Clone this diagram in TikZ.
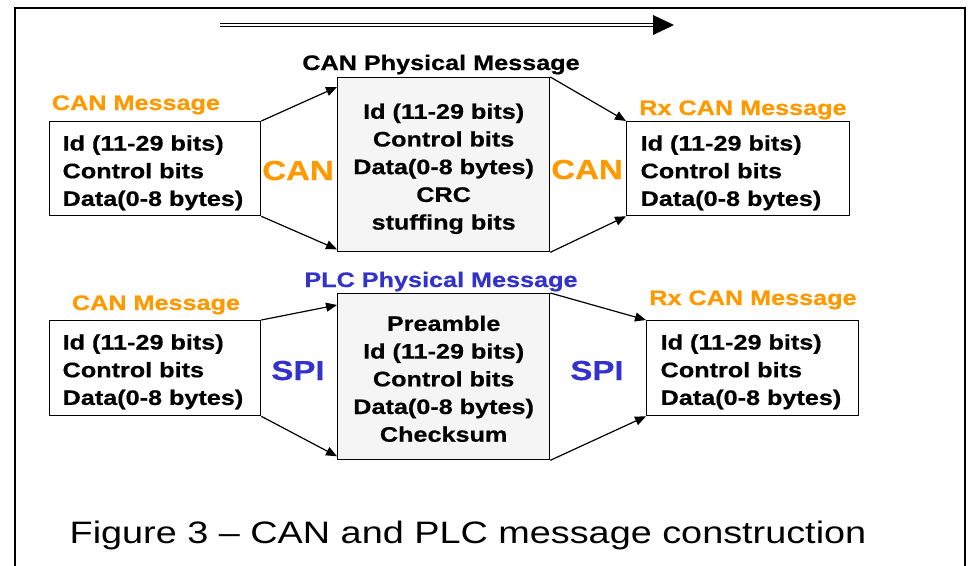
\documentclass[tikz,border=0pt]{standalone}
\usepackage{fontspec}
\setmainfont{Liberation Sans}[FakeStretch=1.2, BoldFeatures={FakeBold=0.6}]
\newfontfamily\capfont{Liberation Sans}[FakeStretch=1.22]
\usetikzlibrary{arrows.meta}
\definecolor{canorange}{RGB}{255,153,0}
\definecolor{plcblue}{RGB}{51,51,204}
\definecolor{physfill}{RGB}{245,245,245}
\newcommand{\topup}[1]{\rule{0pt}{#1}}
\begin{document}
\begin{tikzpicture}[x=1pt,y=-1pt,
  boxtext/.style={font=\bfseries\fontsize{21}{27.7}\selectfont},
  msgbox/.style={boxtext, draw=black, line width=1.3pt, minimum width=211pt, minimum height=94pt,
    anchor=north west, align=left, text width=185pt, inner xsep=13pt, inner ysep=0pt},
  physbox/.style={boxtext, draw=black, fill=physfill, line width=1.3pt, minimum width=212pt,
    anchor=north west, align=center, text width=200pt, inner xsep=6pt, inner ysep=0pt},
  lbl/.style={font=\bfseries\fontsize{21}{24}\selectfont, anchor=base, inner sep=0pt},
  biglbl/.style={font=\bfseries\fontsize{27.5}{30}\selectfont, anchor=base, inner sep=0pt},
  conn/.style={line width=1.2pt, -{Triangle[length=11pt,width=9pt]}}
]
\useasboundingbox (0,0) rectangle (968,565);
% frame
\draw[line width=2pt] (14.5,570) -- (14.5,8) -- (965,8) -- (965,570);
% direction arrow
\coordinate (da) at (220,25);
\coordinate (db) at (655,25);
\draw[double, double distance=2.2pt, line width=1.2pt] (da) -- (db);
\fill (653,15) -- (674,25) -- (653,35) -- cycle;

% upper row
\node[msgbox] (m1) at (49,121) {\topup{23.5pt}Id (11-29 bits)\\Control bits\\Data(0-8 bytes)};
\node[physbox, minimum height=174pt] (p1) at (337,77)
  {\topup{23.5pt}Id (11-29 bits)\\Control bits\\Data(0-8 bytes)\\CRC\\stuffing bits};
\node[msgbox, minimum width=223pt, text width=195pt, inner xsep=14pt] (r1) at (626,121)
  {\topup{23.5pt}Id (11-29 bits)\\Control bits\\Data(0-8 bytes)};
\node[lbl, text=canorange] (t1) at (136,110) {CAN Message};
\node[lbl] (t2) at (441,70) {CAN Physical Message};
\node[lbl, text=canorange] (t3) at (743,115) {Rx CAN Message};
\node[biglbl, text=canorange] (c1) at (298,180) {CAN};
\node[biglbl, text=canorange] (c2) at (587,179) {CAN};
\draw[conn] (m1.north east) -- ([yshift=-10pt]p1.north west);
\draw[conn] (m1.south east) -- ([yshift=3pt]p1.south west);
\draw[conn] (p1.north east) -- (r1.north west);
\draw[conn] (p1.south east) -- (r1.south west);

% lower row
\node[msgbox, minimum height=95pt] (m2) at (49,320) {\topup{22.5pt}Id (11-29 bits)\\Control bits\\Data(0-8 bytes)};
\node[physbox, minimum height=166pt] (p2) at (337,293)
  {\topup{19.5pt}Preamble\\Id (11-29 bits)\\Control bits\\Data(0-8 bytes)\\Checksum};
\node[msgbox, minimum width=212pt, text width=184pt, inner xsep=14pt, minimum height=95pt] (r2) at (646,320)
  {\topup{22.5pt}Id (11-29 bits)\\Control bits\\Data(0-8 bytes)};
\node[lbl, text=canorange] (t4) at (156,310) {CAN Message};
\node[lbl, text=plcblue] (t5) at (441,287) {PLC Physical Message};
\node[lbl, text=canorange] (t6) at (753,305) {Rx CAN Message};
\node[biglbl, text=plcblue] (s1) at (298,380) {SPI};
\node[biglbl, text=plcblue] (s2) at (597,380) {SPI};
\draw[conn] (m2.north east) -- ([yshift=-12pt]p2.north west);
\draw[conn] (m2.south east) -- ([yshift=4pt]p2.south west);
\draw[conn] (p2.north east) -- (r2.north west);
\draw[conn] (p2.south east) -- (r2.south west);

% caption
\node[font=\capfont\fontsize{31}{36}\selectfont, anchor=base, inner sep=0pt] (cap) at (468,543)
  {Figure 3 – CAN and PLC message construction};
\end{tikzpicture}
\end{document}
